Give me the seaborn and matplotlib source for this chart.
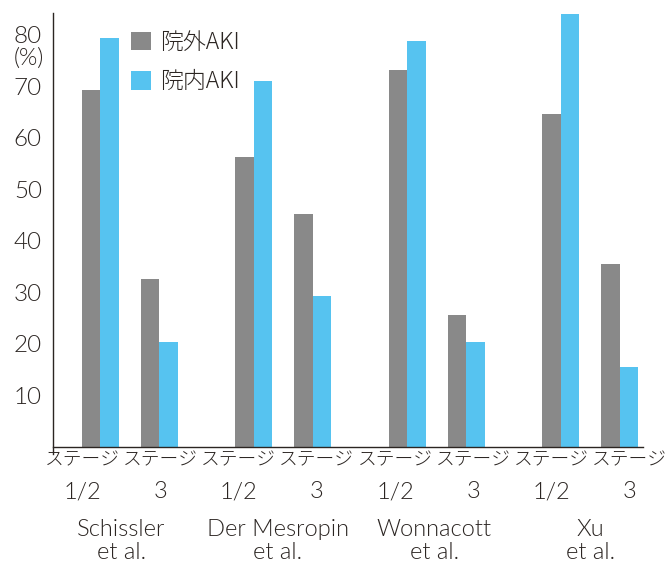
import numpy as np
import pandas as pd
import matplotlib.pyplot as plt
import seaborn as sns
from matplotlib.transforms import blended_transform_factory

# -----------------------------
# Data
# -----------------------------
studies = ["Schissler\net al.", "Der Mesropin\net al.", "Wonnacott\net al.", "Xu\net al."]
stages = ["1/2", "3"]
series = ["院外AKI", "院内AKI"]
outside_aki = [69.3, 32.6, 56.2, 45.3, 73.1, 25.7, 64.7, 35.6]
inside_aki = [79.4, 20.3, 71.1, 29.3, 78.8, 20.3, 84.1, 15.5]
y_ticks = [10, 20, 30, 40, 50, 60, 70, 80]

# -----------------------------
# Style
# -----------------------------
sns.set_style("white")
plt.rcParams["font.family"] = ["Lato", "Noto Sans CJK JP", "DejaVu Sans"]
plt.rcParams["font.weight"] = 300

INK = "#2b2522"
colors = {series[0]: "#898989", series[1]: "#56c3f0"}
CJK = ["Noto Sans CJK JP", "DejaVu Sans"]

# -----------------------------
# Table
# -----------------------------
rows = []
for i in range(len(studies)):
    for j in range(len(stages)):
        k = i * len(stages) + j
        pos = i * 2.6 + j
        rows.append({"pos": pos, "value": outside_aki[k], "series": series[0]})
        rows.append({"pos": pos, "value": inside_aki[k], "series": series[1]})
df = pd.DataFrame(rows)

# -----------------------------
# Plot
# -----------------------------
fig, ax = plt.subplots(figsize=(6.68, 5.66), dpi=100)
fig.subplots_adjust(left=0.0793, right=0.9626, bottom=0.2102, top=0.9776)

sns.barplot(
    data=df,
    x="pos",
    y="value",
    hue="series",
    native_scale=True,
    palette=colors,
    saturation=1,
    width=0.628,
    errorbar=None,
    linewidth=0,
    ax=ax,
)

ax.set_xlim(-0.805, 9.195)
ax.set_ylim(0, 84.3)
ax.set_xlabel("")
ax.set_ylabel("")

for side in ["top", "right"]:
    ax.spines[side].set_visible(False)
for side in ["left", "bottom"]:
    ax.spines[side].set_color(INK)
    ax.spines[side].set_linewidth(1.0)
ax.spines["left"].set_bounds(-1.4, 84.3)

ax.set_yticks(y_ticks)
ax.set_yticklabels([str(t) for t in y_ticks], fontsize=17.5, color=INK)
ax.tick_params(axis="y", length=4, width=1, color=INK, pad=4)

label_x = np.linspace(-0.31, 8.97, len(studies) * len(stages))
ax.set_xticks(label_x)
ax.set_xticklabels(["ステージ"] * len(label_x), fontsize=13.5, color=INK, family=CJK)
ax.tick_params(axis="x", length=0, pad=3)

trans = blended_transform_factory(ax.transData, fig.transFigure)
for k, x in enumerate(label_x):
    ax.text(x, 1 - 492 / 566, stages[k % len(stages)], transform=trans,
            ha="center", va="center", fontsize=17, color=INK)
for i, name in enumerate(studies):
    mid = (label_x[2 * i] + label_x[2 * i + 1]) / 2
    ax.text(mid, 1 - 541 / 566, name, transform=trans, ha="center",
            va="center", fontsize=17, color=INK, linespacing=1.1)

fig.text(29 / 668, 1 - 58 / 566, "(%)", ha="center", va="center",
         fontsize=17, color=INK)

handles, labels = ax.get_legend_handles_labels()
ax.legend(
    handles,
    labels,
    loc="upper left",
    bbox_to_anchor=(131 / 668, 1 - 30 / 566),
    bbox_transform=fig.transFigure,
    frameon=False,
    borderpad=0,
    borderaxespad=0,
    handlelength=0.87,
    handleheight=0.87,
    handletextpad=0.4,
    labelspacing=0.62,
    prop={"family": CJK, "size": 16.5},
    labelcolor=INK,
)

plt.savefig("out.png", dpi=100)
plt.close()
